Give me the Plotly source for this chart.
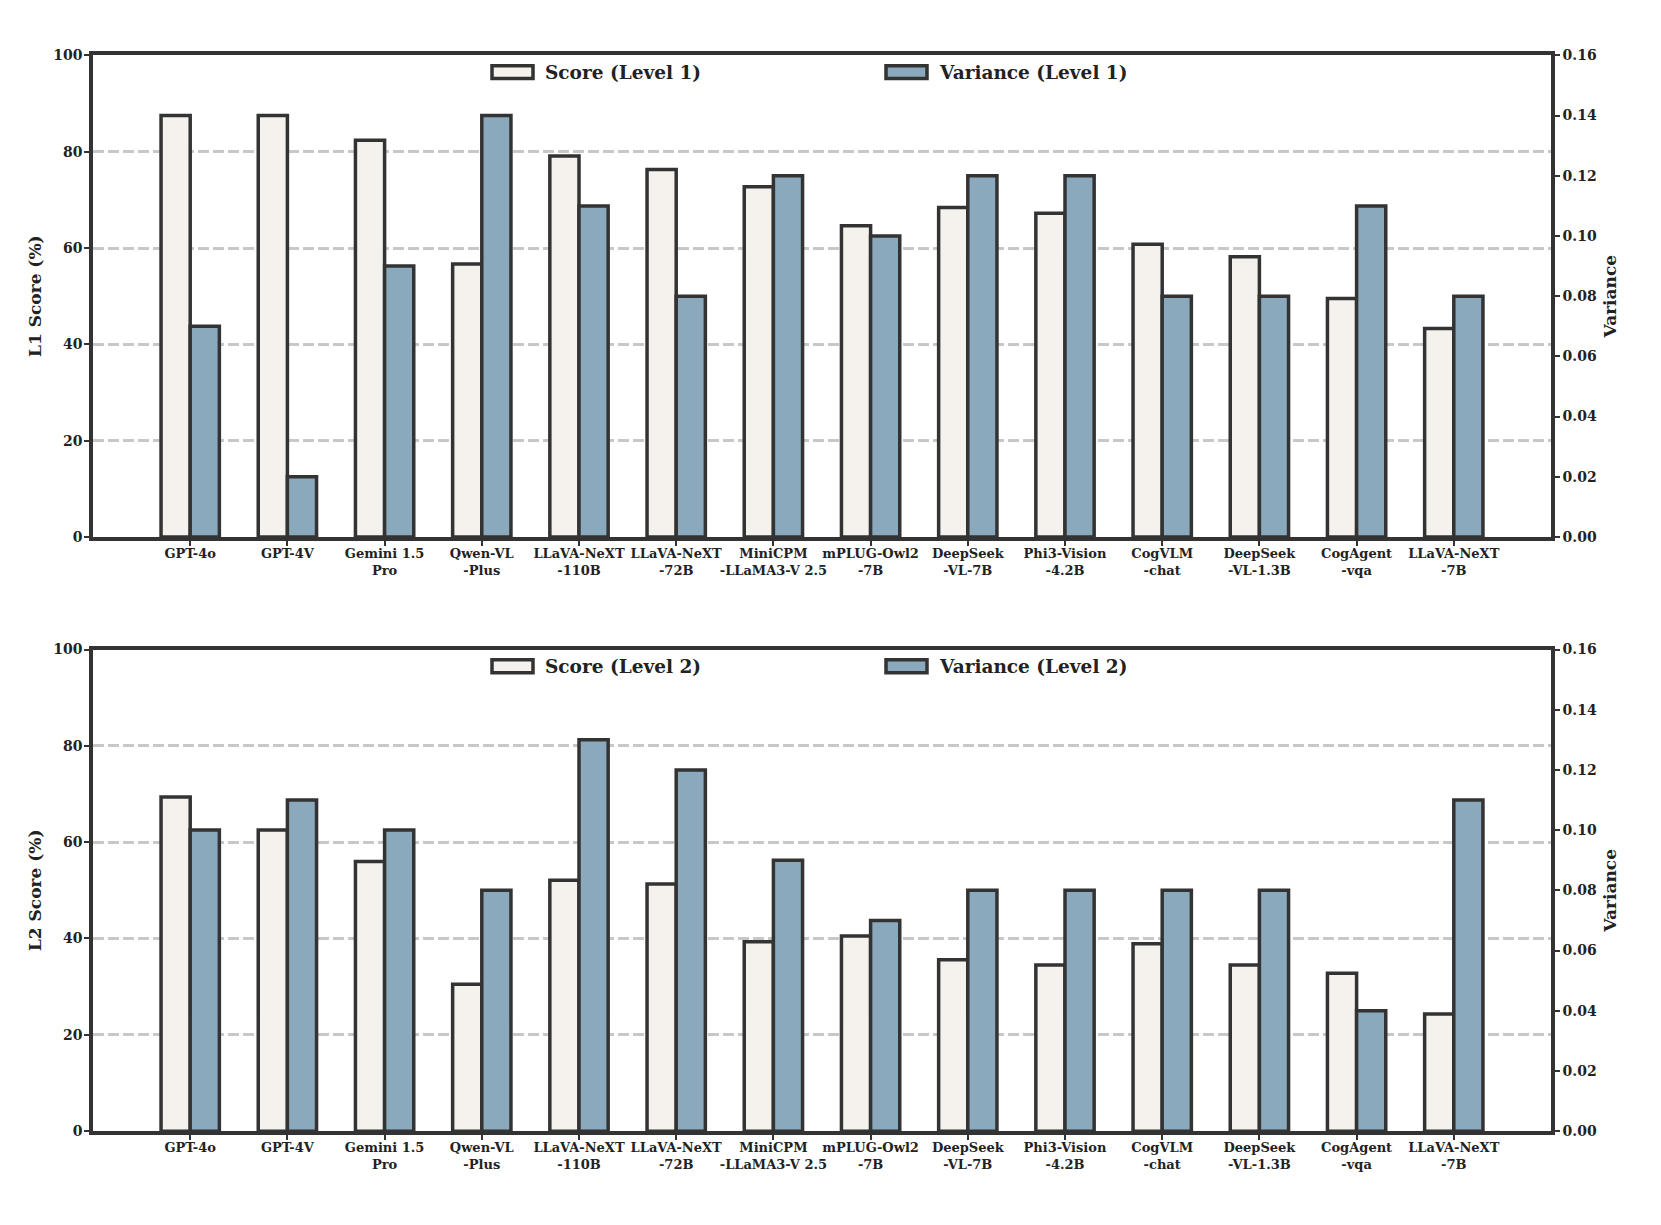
import plotly.graph_objects as go
from plotly.subplots import make_subplots

models = ["GPT-4o", "GPT-4V", "Gemini 1.5<br>Pro", "Qwen-VL<br>-Plus", "LLaVA-NeXT<br>-110B",
          "LLaVA-NeXT<br>-72B", "MiniCPM<br>-LLaMA3-V 2.5", "mPLUG-Owl2<br>-7B", "DeepSeek<br>-VL-7B",
          "Phi3-Vision<br>-4.2B", "CogVLM<br>-chat", "DeepSeek<br>-VL-1.3B", "CogAgent<br>-vqa",
          "LLaVA-NeXT<br>-7B"]

score_l1 = [87.5, 87.5, 82.4, 56.7, 79.1, 76.3, 72.7, 64.6, 68.4, 67.2, 60.8, 58.2, 49.5, 43.3]
var_l1 = [0.07, 0.02, 0.09, 0.14, 0.11, 0.08, 0.12, 0.10, 0.12, 0.12, 0.08, 0.08, 0.11, 0.08]

score_l2 = [69.4, 62.5, 56.0, 30.5, 52.1, 51.3, 39.3, 40.5, 35.6, 34.5, 38.9, 34.5, 32.8, 24.3]
var_l2 = [0.10, 0.11, 0.10, 0.08, 0.13, 0.12, 0.09, 0.07, 0.08, 0.08, 0.08, 0.08, 0.04, 0.11]

left_ticks = [0, 20, 40, 60, 80, 100]
right_ticks = [0.00, 0.02, 0.04, 0.06, 0.08, 0.10, 0.12, 0.14, 0.16]

W, H = 1661, 1225
SCORE_C = "#f5f2ed"
VAR_C = "#8aa9bd"
EDGE = "#333333"
FONT = "DejaVu Serif"

xpos = list(range(len(models)))

fig = make_subplots(rows=2, cols=1, specs=[[{"secondary_y": True}], [{"secondary_y": True}]])

levels = [(score_l1, var_l1, 1), (score_l2, var_l2, 2)]
for sc, va, r in levels:
    fig.add_trace(go.Bar(x=xpos, y=sc, width=0.3, offset=-0.3, name=f"Score (Level {r})",
                         marker=dict(color=SCORE_C, line=dict(color=EDGE, width=3.5)),
                         showlegend=False), row=r, col=1, secondary_y=False)
    fig.add_trace(go.Bar(x=xpos, y=va, width=0.3, offset=0.0, name=f"Variance (Level {r})",
                         marker=dict(color=VAR_C, line=dict(color=EDGE, width=3.5)),
                         showlegend=False), row=r, col=1, secondary_y=True)

def px(x):
    return x / W

def py(y):
    return 1 - y / H

x_dom = [px(93), px(1551)]
doms = [[py(536), py(48)], [py(1138), py(650)]]

tickfont_y = dict(family=FONT, size=14, color="#222222", weight="bold")
tickfont_x = dict(family=FONT, size=13, color="#222222", weight="bold")
titlefont = dict(family=FONT, size=17, color="#222222", weight="bold")

for i, r in enumerate([1, 2]):
    xa = "xaxis" if r == 1 else "xaxis2"
    ya = "yaxis" if r == 1 else "yaxis3"
    ya2 = "yaxis2" if r == 1 else "yaxis4"
    fig.update_layout(**{
        xa: dict(domain=x_dom, range=[-1, 14], tickmode="array", tickvals=xpos, ticktext=models,
                 showline=True, linewidth=3.5, linecolor=EDGE, mirror=True, ticks="outside",
                 ticklen=5, tickwidth=1.5, tickcolor=EDGE, tickfont=tickfont_x, showgrid=False,
                 zeroline=False, tickangle=0, ticklabelstandoff=-3),
        ya: dict(domain=doms[i], range=[0, 100], tickmode="array", tickvals=left_ticks,
                 showline=True, linewidth=3.5, linecolor=EDGE, ticks="outside", ticklen=5,
                 tickwidth=1.5, tickcolor=EDGE, tickfont=tickfont_y, showgrid=True,
                 gridcolor="#c8c8c8", gridwidth=2.5, griddash="11px,4px", zeroline=False,
                 ticklabelstandoff=-1,
                 title=dict(text=f"L{r} Score (%)", font=titlefont, standoff=8)),
        ya2: dict(range=[0, 0.16], tickmode="array", tickvals=right_ticks, tickformat=".2f",
                  showline=True, linewidth=3.5, linecolor=EDGE, ticks="outside", ticklen=5,
                  tickwidth=1.5, tickcolor=EDGE, tickfont=tickfont_y, showgrid=False,
                  zeroline=False, side="right",
                  title=dict(text="Variance", font=titlefont, standoff=9)),
    })

# legend drawn as shapes + text, inside each panel near the top
shapes = []
annotations = []
legend_font = dict(family=FONT, size=18.5, color="#222222", weight="bold")
for i, r in enumerate([1, 2]):
    off = i * 602
    yc = 65 + off
    for x0, color, label in [(492, SCORE_C, f"Score (Level {r})"), (886, VAR_C, f"Variance (Level {r})")]:
        shapes.append(dict(type="rect", xref="paper", yref="paper",
                           x0=px(x0), x1=px(x0 + 41), y0=py(yc + 6.5), y1=py(yc - 6.5),
                           fillcolor=color, line=dict(color=EDGE, width=3.5), layer="above"))
        annotations.append(dict(xref="paper", yref="paper", x=px(x0 + 51), y=py(yc),
                                text=label, showarrow=False, xanchor="left", yanchor="middle",
                                font=legend_font))

fig.update_layout(width=W, height=H, margin=dict(l=0, r=0, t=0, b=0),
                  paper_bgcolor="white", plot_bgcolor="white", barmode="overlay",
                  shapes=shapes, annotations=annotations, showlegend=False,
                  font=dict(family=FONT, color="#222222"))

fig.write_html("out.html", config={"displayModeBar": False},
               post_script="document.body.style.margin='0px';document.body.style.overflow='hidden';")
